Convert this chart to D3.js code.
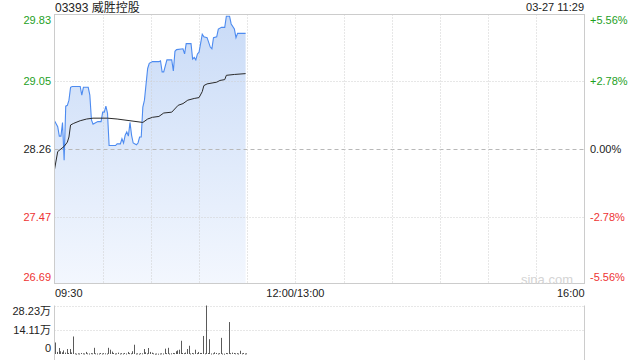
<!DOCTYPE html>
<html><head><meta charset="utf-8">
<script src="https://cdn.jsdelivr.net/npm/d3@7/dist/d3.min.js"></script>
<style>
html,body{margin:0;padding:0;background:#fff;}
svg{display:block;font-family:"Liberation Sans",Arial,"Noto Sans CJK SC",sans-serif;}
</style></head>
<body>
<svg id="chart" width="640" height="360"></svg>
<script>
// ---- data ----
const title = "03393 威胜控股";
const stamp = "03-27 11:29";
const prevClose = 28.26;
const priceTicks = [29.83, 29.05, 28.26, 27.47, 26.69];
const pctTicks = ["+5.56%", "+2.78%", "0.00%", "-2.78%", "-5.56%"];
const timeTickMinutes = [0, 150, 330];
const timeTickLabels = ["09:30", "12:00/13:00", "16:00"];
const volTicks = [282300, 141100, 0];
const volTickLabels = ["28.23万", "14.11万", "0"];

// minutes after 09:30 (trading minutes)
const priceMinutes = [0,2,3,4,5,6,7,8,9,10,11,16,17,18,21,22,23,24,25,27,29,30,31,32,33,34,38,39,41,42,43,44,45,46,47,48,49,51,52,53,54,55,56,58,59,61,65,66,67,68,70,73,74,75,76,80,81,82,85,86,87,88,89,90,92,93,95,97,98,99,101,102,104,106,107,109,110,112,113,114,116,119];
const priceValues = [28.59,28.52,28.41,28.41,28.57,28.13,28.76,28.77,28.83,28.98,28.99,28.99,28.89,28.98,28.98,28.89,28.60,28.55,28.56,28.58,28.58,28.69,28.69,28.76,28.68,28.30,28.30,28.32,28.32,28.38,28.33,28.42,28.46,28.41,28.57,28.42,28.33,28.31,28.33,28.40,28.40,28.75,28.83,29.20,29.26,29.28,29.28,29.29,29.16,29.16,29.30,29.30,29.17,29.40,29.42,29.43,29.37,29.49,29.49,29.31,29.33,29.30,29.37,29.39,29.60,29.57,29.56,29.45,29.43,29.56,29.57,29.66,29.68,29.68,29.81,29.81,29.72,29.66,29.56,29.61,29.61,29.61];

const avgMinutes = [0,2,4,6,8,9,10,12,16,20,24,33,39,47,55,58,61,65,68,73,77,80,83,87,90,92,93,95,101,103,106,107,112,119];
const avgValues = [28.02,28.23,28.26,28.29,28.34,28.40,28.54,28.56,28.59,28.61,28.62,28.62,28.61,28.59,28.57,28.61,28.63,28.64,28.68,28.69,28.77,28.79,28.83,28.85,28.86,28.93,29.00,29.02,29.04,29.06,29.07,29.12,29.13,29.14];

const volumes = [67000,12000,35000,16000,10000,21000,8000,29000,6000,29000,
 9000,102000,4000,2000,4000,3000,6000,4000,3000,12000,
 4000,3000,5000,4000,36000,4000,3000,3000,6000,3000,
 5000,4000,3000,36000,25000,14000,6000,3000,4000,8000,
 3000,5000,3000,6000,3000,12000,5000,4000,16000,54000,
 3000,4000,2000,5000,4000,29000,10000,4000,35000,12000,
 8000,4000,2000,3000,2000,3000,4000,3000,31000,5000,
 36000,3000,4000,6000,5000,16000,21000,25000,77000,6000,
 5000,8000,29000,48000,3000,6000,4000,25000,5000,12000,
 6000,6000,105000,4000,282300,6000,86000,3000,4000,10000,
 6000,3000,5000,94000,3000,2000,6000,5000,186000,5000,
 8000,6000,4000,5000,3000,19000,4000,6000,3000,4000];

// ---- layout ----
const L = 54.5, R = 584.5, T = 14.5, B = 283.5;
const VT = 305.5, VB = 354;
const svg = d3.select("#chart");
const x = d3.scaleLinear().domain([0, 330]).range([L, R]);
const y = d3.scaleLinear().domain([priceTicks[4], priceTicks[0]]).range([B, T]);
const yv = d3.scaleLinear().domain([0, volTicks[0]]).range([VB, VT]);
const green = "#1ea01e", red = "#ee3333", grid = "#cfcfcf";
const colorFor = (i) => i < 2 ? green : (i === 2 ? "#222" : red);

// gradient
const defs = svg.append("defs");
const g = defs.append("linearGradient").attr("id","fillg").attr("gradientUnits","userSpaceOnUse")
  .attr("x1",0).attr("x2",0).attr("y1",T).attr("y2",B);
g.append("stop").attr("offset","0").attr("stop-color","#c9dbf7");
g.append("stop").attr("offset","1").attr("stop-color","#f3f7fe");

// area fill first
const pts = priceMinutes.map((m, i) => [m, priceValues[i]]);
svg.append("path").datum(pts)
  .attr("d", d3.area().x(d => x(d[0])).y0(B).y1(d => y(d[1])))
  .attr("fill", "url(#fillg)");

// grid lines horizontal
priceTicks.forEach((p, i) => {
  if (i === 0 || i === 4) return;
  const yy = Math.round(y(p)) + 0.5;
  svg.append("line").attr("x1", L).attr("x2", R).attr("y1", yy).attr("y2", yy)
    .attr("stroke", i === 2 ? "#b8b8b8" : grid)
    .attr("stroke-dasharray", i === 2 ? "4,3" : "1,2");
});
// vertical grid
for (let k = 1; k < 11; k++) {
  const xx = Math.round(x(k * 30)) + 0.5;
  svg.append("line").attr("x1", xx).attr("x2", xx).attr("y1", T).attr("y2", B)
    .attr("stroke", grid).attr("stroke-dasharray", "1,2");
}

// lines
svg.append("path").datum(pts)
  .attr("d", d3.line().x(d => x(d[0])).y(d => y(d[1])))
  .attr("fill", "none").attr("stroke", "#4d8bf0").attr("stroke-width", 1.1);
const apts = avgMinutes.map((m, i) => [m, avgValues[i]]);
svg.append("path").datum(apts)
  .attr("d", d3.line().x(d => x(d[0])).y(d => y(d[1])))
  .attr("fill", "none").attr("stroke", "#2a2a2a").attr("stroke-width", 1);

// border
svg.append("rect").attr("x", L).attr("y", T).attr("width", R - L).attr("height", B - T)
  .attr("fill", "none").attr("stroke", "#cccccc");

// watermark
svg.append("text").attr("x", 573).attr("y", 279).attr("dy", "0.35em")
  .attr("text-anchor", "end").attr("font-size", 13).attr("fill", "#d4d4d4").text("sina.com");

// price labels
priceTicks.forEach((p, i) => {
  let yy = y(p);
  if (i === 0) yy += 6; if (i === 4) yy -= 6;
  svg.append("text").attr("x", 51).attr("y", yy).attr("dy", "0.35em")
    .attr("text-anchor", "end").attr("font-size", 11).attr("fill", colorFor(i))
    .text(p.toFixed(2));
  svg.append("text").attr("x", 590).attr("y", yy).attr("dy", "0.35em")
    .attr("text-anchor", "start").attr("font-size", 11).attr("fill", colorFor(i))
    .text(pctTicks[i]);
});

// title & stamp
svg.append("text").attr("x", 55).attr("y", 7.5).attr("dy", "0.35em")
  .attr("font-size", 12).attr("fill", "#222").text(title);
svg.append("text").attr("x", 584).attr("y", 7.5).attr("dy", "0.35em")
  .attr("text-anchor", "end").attr("font-size", 11).attr("fill", "#222").text(stamp);

// time labels
timeTickMinutes.forEach((m, i) => {
  const anchor = i === 0 ? "start" : (i === 2 ? "end" : "middle");
  svg.append("text").attr("x", i === 0 ? 55 : x(m)).attr("y", 293).attr("dy", "0.35em")
    .attr("text-anchor", anchor).attr("font-size", 11).attr("fill", "#222").text(timeTickLabels[i]);
});

// volume panel
[volTicks[0], volTicks[1]].forEach(v => {
  const yy = Math.round(yv(v)) + 0.5;
  svg.append("line").attr("x1", L).attr("x2", R).attr("y1", yy).attr("y2", yy)
    .attr("stroke", grid).attr("stroke-dasharray", "1,2");
});
[L, R].forEach(xx => svg.append("line").attr("x1", xx).attr("x2", xx)
  .attr("y1", VT).attr("y2", 360).attr("stroke", "#cccccc"));
volumes.forEach((v, i) => {
  const xx = Math.round(x(i + 0.5));
  svg.append("rect").attr("x", xx).attr("width", 1)
    .attr("y", yv(v)).attr("height", Math.max(VB - yv(v), 1)).attr("fill", "#5a5a5a");
});
volTicks.forEach((v, i) => {
  let yy = yv(v);
  if (i === 0) yy += 6; if (i === 2) yy -= 6;
  svg.append("text").attr("x", 51).attr("y", yy).attr("dy", "0.35em")
    .attr("text-anchor", "end").attr("font-size", 11).attr("fill", "#222").text(volTickLabels[i]);
});
</script>
</body></html>
